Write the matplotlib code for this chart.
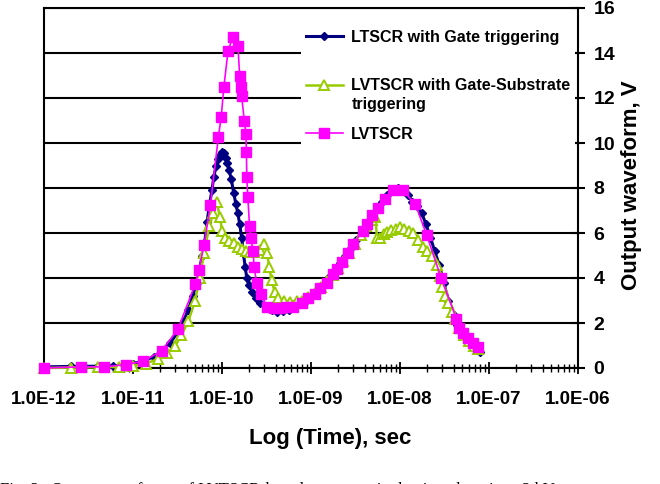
import matplotlib
matplotlib.use("Agg")
import matplotlib.pyplot as plt
from matplotlib.ticker import LogLocator, FuncFormatter, NullFormatter, MultipleLocator

plt.rcParams['font.family'] = ['Liberation Sans', 'DejaVu Sans']

# LTSCR with Gate triggering
t_gate = [1.0e-12, 2e-12, 4e-12, 6e-12, 8e-12, 1.0e-11, 1.3e-11, 1.7e-11, 2.1e-11, 2.6e-11,
          3.2e-11, 3.7e-11, 4.2e-11, 4.7e-11, 5.2e-11, 5.6e-11, 6.0e-11, 6.4e-11, 6.8e-11, 7.2e-11,
          7.7e-11, 8.1e-11, 8.6e-11, 9.1e-11, 9.6e-11, 1.0e-10, 1.05e-10, 1.1e-10, 1.15e-10, 1.2e-10,
          1.27e-10, 1.35e-10, 1.43e-10, 1.5e-10, 1.58e-10, 1.66e-10, 1.74e-10, 1.82e-10, 1.9e-10, 2.0e-10,
          2.2e-10, 2.4e-10, 2.7e-10, 3.1e-10, 3.6e-10, 4.2e-10, 4.9e-10, 5.7e-10, 6.6e-10, 7.6e-10,
          8.8e-10, 1.0e-9, 1.2e-9, 1.4e-9, 1.6e-9, 1.85e-9, 2.1e-9, 2.4e-9, 2.8e-9, 3.2e-9,
          3.7e-9, 4.2e-9, 4.8e-9, 5.5e-9, 6.3e-9, 7.2e-9, 8.2e-9, 9.4e-9, 1.07e-8, 1.22e-8,
          1.38e-8, 1.55e-8, 1.75e-8, 1.95e-8, 2.2e-8, 2.45e-8, 2.75e-8, 3.1e-8, 3.5e-8, 3.9e-8,
          4.4e-8, 5.0e-8, 5.7e-8, 6.5e-8, 7.4e-8, 8.0e-8]
v_gate = [0.05, 0.07, 0.08, 0.1, 0.12, 0.2, 0.3, 0.5, 0.75, 1.1,
          1.6, 2.1, 2.6, 3.2, 3.8, 4.4, 5.0, 5.6, 6.5, 7.2,
          7.9, 8.5, 9.0, 9.3, 9.45, 9.6, 9.55, 9.35, 9.1, 8.8,
          8.4, 7.8, 7.3, 6.9, 6.4, 5.8, 5.1, 4.5, 4.0, 3.7,
          3.4, 3.1, 2.9, 2.7, 2.6, 2.5, 2.55, 2.6, 2.7, 2.85,
          3.0, 3.2, 3.45, 3.75, 4.05, 4.35, 4.65, 5.0, 5.35, 5.7,
          6.05, 6.4, 6.75, 7.1, 7.4, 7.7, 7.9, 8.0, 7.95, 7.7,
          7.4, 7.2, 6.9, 6.4, 5.8, 5.2, 4.6, 3.8, 3.0, 2.4,
          1.9, 1.5, 1.2, 1.0, 0.8, 0.7]

# LVTSCR with Gate-Substrate triggering
t_sub = [1.0e-12, 2e-12, 4e-12, 7e-12, 1.0e-11, 1.4e-11, 1.9e-11, 2.4e-11, 3.0e-11, 3.5e-11,
         4.2e-11, 5.0e-11, 5.6e-11, 6.3e-11, 7.2e-11, 8.0e-11, 8.7e-11, 9.5e-11, 1.0e-10, 1.07e-10,
         1.2e-10, 1.35e-10, 1.5e-10, 1.66e-10, 1.85e-10, 2.05e-10, 2.3e-10, 2.65e-10, 3.0e-10, 3.2e-10,
         3.4e-10, 3.6e-10, 3.9e-10, 4.3e-10, 5.0e-10, 5.8e-10, 6.9e-10, 8.0e-10, 9.3e-10, 1.1e-9,
         1.3e-9, 1.5e-9, 1.75e-9, 2.0e-9, 2.3e-9, 2.7e-9, 3.1e-9, 3.6e-9, 4.2e-9, 4.9e-9,
         5.3e-9, 5.5e-9, 6.0e-9, 6.6e-9, 7.2e-9, 8.0e-9, 9.0e-9, 1.0e-8, 1.12e-8, 1.26e-8,
         1.4e-8, 1.6e-8, 1.8e-8, 2.0e-8, 2.3e-8, 2.6e-8, 2.8e-8, 3.0e-8, 3.2e-8, 3.5e-8,
         3.8e-8, 4.1e-8, 4.6e-8, 5.2e-8, 5.9e-8, 6.7e-8, 7.5e-8]
v_sub = [0.0, 0.02, 0.03, 0.05, 0.1, 0.2, 0.4, 0.65, 1.0, 1.45,
         2.1, 3.0, 4.0, 5.1, 6.3, 6.9, 7.4, 6.7, 6.1, 5.8,
         5.65, 5.55, 5.4, 5.3, 5.2, 5.15, 5.15, 5.25, 5.5, 5.1,
         4.5, 3.9, 3.4, 3.1, 3.0, 2.95, 3.0, 3.0, 3.15, 3.35,
         3.6, 3.85, 4.15, 4.45, 4.75, 5.1, 5.5, 5.9, 6.3, 6.6,
         6.7, 5.8, 5.8, 5.95, 6.05, 6.15, 6.2, 6.25, 6.2, 6.1,
         6.0, 5.7, 5.4, 5.2, 5.0, 4.6, 4.1, 3.6, 3.2, 2.9,
         2.5, 2.2, 1.8, 1.45, 1.2, 1.0, 0.85]

# LVTSCR
t_lv = [1.0e-12, 2.6e-12, 4.7e-12, 8.3e-12, 1.3e-11, 2.1e-11, 3.2e-11, 5.0e-11, 5.5e-11, 6.3e-11,
        7.4e-11, 9.1e-11, 9.8e-11, 1.05e-10, 1.17e-10, 1.32e-10, 1.51e-10, 1.58e-10, 1.62e-10, 1.66e-10,
        1.78e-10, 1.86e-10, 1.88e-10, 1.90e-10, 1.95e-10, 2.04e-10, 2.10e-10, 2.24e-10, 2.29e-10, 2.45e-10,
        2.75e-10, 3.2e-10, 3.8e-10, 4.5e-10, 5.3e-10, 6.3e-10, 7.9e-10, 9.3e-10, 1.12e-9, 1.26e-9,
        1.51e-9, 1.78e-9, 1.95e-9, 2.24e-9, 2.63e-9, 3.0e-9, 3.8e-9, 4.3e-9, 4.9e-9, 5.6e-9,
        6.8e-9, 8.3e-9, 1.07e-8, 1.48e-8, 2.0e-8, 2.9e-8, 4.3e-8, 4.6e-8, 5.1e-8, 5.8e-8,
        6.6e-8, 7.6e-8]
v_lv = [0.0, 0.05, 0.05, 0.15, 0.3, 0.77, 1.73, 3.73, 4.36, 5.47,
        7.24, 10.26, 11.16, 12.5, 14.1, 14.7, 14.3, 13.0, 12.5, 12.1,
        11.0, 10.4, 9.6, 8.5, 7.6, 6.3, 5.8, 5.2, 4.5, 3.8,
        3.3, 2.7, 2.65, 2.65, 2.7, 2.7, 2.9, 3.1, 3.3, 3.55,
        3.8, 4.2, 4.4, 4.7, 5.1, 5.5, 6.1, 6.4, 6.8, 7.1,
        7.5, 7.9, 7.9, 7.3, 5.9, 4.0, 2.2, 1.8, 1.55, 1.35,
        1.1, 0.95]

labels = ["LTSCR with Gate triggering", "LVTSCR with Gate-Substrate", "LVTSCR"]

fig = plt.figure(figsize=(6.6, 4.84), dpi=100)
ax = fig.add_axes([44 / 660, 1 - 368 / 484, 534 / 660, 360 / 484])

ax.set_xscale('log')
ax.set_xlim(1e-12, 1e-6)
ax.set_ylim(0, 16)

ax.yaxis.set_major_locator(MultipleLocator(2))
ax.grid(axis='y', color='black', linewidth=1.5)
ax.set_axisbelow(True)

l1, = ax.plot(t_gate, v_gate, color='#000080', lw=2.2, marker='D', ms=4.5,
              clip_on=False, zorder=3, label=labels[0])
l2, = ax.plot(t_sub, v_sub, color='#99CC00', lw=1.8, marker='^', ms=6.5, mfc='white',
              mec='#99CC00', mew=1.4, clip_on=False, zorder=4, label=labels[1])
l3, = ax.plot(t_lv, v_lv, color='#FF00FF', lw=1.2, marker='s', ms=6.5,
              clip_on=False, zorder=5, label=labels[2])

for s in ax.spines.values():
    s.set_linewidth(1.5)

ax.yaxis.tick_right()
ax.yaxis.set_label_position('right')
ax.tick_params(axis='y', which='major', direction='inout', length=10, width=1.5,
               labelsize=14, pad=6)
ax.xaxis.set_major_locator(LogLocator(base=10, numticks=10))
ax.xaxis.set_minor_locator(LogLocator(base=10, subs=range(2, 10), numticks=20))
ax.xaxis.set_minor_formatter(NullFormatter())
ax.xaxis.set_major_formatter(FuncFormatter(lambda x, p: f"{x:.1E}"))
ax.tick_params(axis='x', which='major', direction='inout', length=9, width=1.3,
               labelsize=13.5, pad=12)
ax.tick_params(axis='x', which='minor', direction='inout', length=6, width=1.0)
for lab in ax.get_xticklabels() + ax.get_yticklabels():
    lab.set_fontweight('bold')

ax.set_xlabel("Log (Time), sec", fontsize=16, fontweight='bold', va='top')
ax.xaxis.set_label_coords((330 - 44) / 534, -60 / 360)
ax.set_ylabel("Output waveform, V", fontsize=16, fontweight='bold', va='center')
ax.yaxis.set_label_coords((632 - 44) / 534, (368 - 185) / 360)

leg = ax.legend(handles=[l1, l2, l3], loc='upper left',
                bbox_to_anchor=((301 - 44) / 534, (368 - 25) / 360),
                frameon=True, fancybox=False, framealpha=1, edgecolor='none',
                prop={'size': 11.5, 'weight': 'bold'}, borderpad=0.3, borderaxespad=0,
                handlelength=2.3, handletextpad=0.55, labelspacing=2.1)

# second line of the middle legend label, placed under its first line
fig.canvas.draw()
bb = leg.get_texts()[1].get_window_extent()
ax.annotate("triggering", xy=(bb.x0, bb.y0), xycoords='figure pixels',
            xytext=(0, -3), textcoords='offset points', va='top', ha='left',
            fontsize=11.5, fontweight='bold', zorder=10)

fig.text(0.0, -0.02, "Fig. 3.  Output waveforms of LVTSCR-based structures in the time domain at 3 kV",
         family=['Liberation Serif', 'DejaVu Serif'], fontsize=12, va='baseline', ha='left')

fig.savefig("out.png", dpi=100)
